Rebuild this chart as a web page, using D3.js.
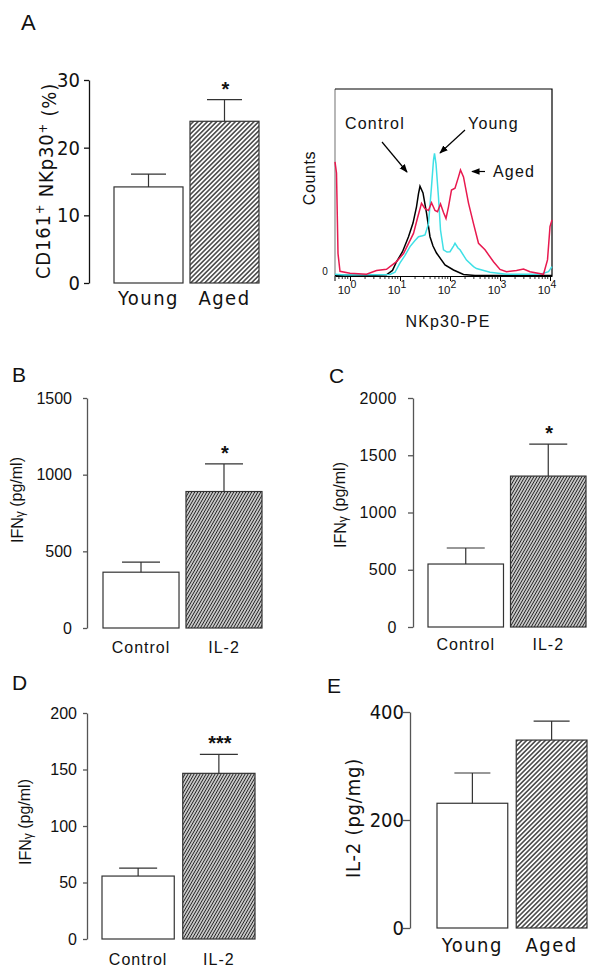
<!DOCTYPE html>
<html><head><meta charset="utf-8">
<script src="https://cdn.jsdelivr.net/npm/d3@7/dist/d3.min.js"></script>
<style>
body{margin:0;background:#fff;}
svg{display:block;}
</style></head>
<body>
<svg id="chart" width="600" height="979"></svg>
<script>
// ---------- DATA ----------
const panelACats = ["Young", "Aged"];
const panelAValues = [14.2, 23.9];
const panelAErrors = [1.9, 3.2];
const panelATicks = [0, 10, 20, 30];
const panelASig = ["", "*"];

const panelBCats = ["Control", "IL-2"];
const panelBValues = [364, 890];
const panelBErrors = [65, 181];
const panelBTicks = [0, 500, 1000, 1500];
const panelBSig = ["", "*"];

const panelCCats = ["Control", "IL-2"];
const panelCValues = [550, 1318];
const panelCErrors = [140, 280];
const panelCTicks = [0, 500, 1000, 1500, 2000];
const panelCSig = ["", "*"];

const panelDCats = ["Control", "IL-2"];
const panelDValues = [55.7, 146.6];
const panelDErrors = [7, 16.8];
const panelDTicks = [0, 50, 100, 150, 200];
const panelDSig = ["", "***"];

const panelECats = ["Young", "Aged"];
const panelEValues = [231, 348];
const panelEErrors = [56, 35];
const panelETicks = [0, 200, 400];
const panelESig = ["", ""];

// histogram curves: [log10(NKp30-PE), counts]
const histControl = [[-0.3,0.4],[0.5,0.4],[0.73,0.6],[0.85,3],[0.93,7.6],[1.05,13],[1.17,21],[1.26,28.3],[1.33,37],[1.37,44],[1.4,48],[1.46,44.4],[1.53,33.7],[1.6,21],[1.66,16],[1.73,12.3],[1.9,5.9],[2.07,3.2],[2.27,0.8],[2.5,0.3],[4.04,0.3]];
const histYoung = [[-0.3,1],[-0.1,0.6],[0.8,0.8],[0.9,2],[1.0,7],[1.1,11],[1.2,15.7],[1.3,19],[1.37,21],[1.45,21.5],[1.5,22],[1.57,28],[1.63,47.8],[1.67,62],[1.69,65.6],[1.72,60],[1.77,42],[1.81,24.6],[1.87,14],[1.94,12.8],[2.0,13],[2.07,16],[2.1,17.5],[2.16,15],[2.2,14],[2.33,8.5],[2.47,5],[2.53,4],[2.8,2],[3.13,1],[3.8,1],[3.97,2.3],[4.04,5]];
const histAged = [[-0.3,61],[-0.27,55],[-0.24,12],[-0.2,2.5],[0.0,1.5],[0.33,1],[0.53,2.9],[0.73,3.6],[0.93,7.7],[1.07,12],[1.27,22.8],[1.35,31],[1.43,38.9],[1.5,36],[1.57,35],[1.63,39.2],[1.7,35],[1.75,34.4],[1.81,38.5],[1.87,34],[1.92,30.8],[1.97,37],[2.03,46],[2.1,47],[2.17,53],[2.21,56.7],[2.27,53],[2.37,39],[2.47,28],[2.57,17.5],[2.7,14],[2.87,7.6],[3.0,3.5],[3.13,2.3],[3.33,2.9],[3.47,3.7],[3.6,2.3],[3.87,0.9],[3.95,8.6],[4.0,26.4],[4.04,30]];
const histDecades = [0, 1, 2, 3, 4];
const histCurveLabels = ["Control", "Young", "Aged"];

// ---------- DRAW ----------
const svg = d3.select("#chart");
const narrow = "'DejaVu Sans Condensed','Liberation Sans Narrow','Arial Narrow',sans-serif";
const regular = "'Liberation Sans',Arial,sans-serif";

const defs = svg.append("defs");
function hatch(id, w, angle, sw, color) {
  const p = defs.append("pattern").attr("id", id).attr("patternUnits", "userSpaceOnUse")
    .attr("width", w).attr("height", w).attr("patternTransform", `rotate(${angle})`);
  p.append("rect").attr("width", w).attr("height", w).attr("fill", "#fff");
  p.append("line").attr("x1", w/2).attr("x2", w/2).attr("y1", 0).attr("y2", w)
    .attr("stroke", color).attr("stroke-width", sw);
}
hatch("hatchA", 3.3, 45, 1.3, "#222");
hatch("hatchB", 2.6, 30, 1.3, "#222");
defs.append("marker").attr("id", "arrow").attr("viewBox", "0 0 10 10").attr("refX", 9).attr("refY", 5)
  .attr("markerWidth", 7).attr("markerHeight", 7).attr("orient", "auto-start-reverse")
  .append("path").attr("d", "M0,1 L10,5 L0,9 z").attr("fill", "#000");

function barPanel(o) {
  const g = svg.append("g");
  const x = d3.scaleBand().domain(o.cats).range(o.xr).paddingInner(o.pad).paddingOuter(0);
  const y = d3.scaleLinear().domain([0, o.ticks[o.ticks.length-1]]).range(o.yr);
  const ax = g.append("g").attr("transform", `translate(${o.axisX},0)`)
    .call(d3.axisLeft(y).tickValues(o.ticks).tickFormat(d3.format("d"))
      .tickSize(o.tickSize).tickPadding(o.tickPad).tickSizeOuter(0));
  ax.select(".domain").attr("stroke", o.axisColor).attr("stroke-width", 1.3);
  ax.selectAll(".tick line").attr("stroke", o.axisColor).attr("stroke-width", 1.3);
  ax.selectAll(".tick text").attr("font-family", o.font).attr("font-size", o.tickFs)
    .attr("fill", "#111").attr("letter-spacing", o.tickLs || 0);
  const bw = x.bandwidth();
  g.selectAll("rect.bar").data(o.cats).join("rect").attr("class", "bar")
    .attr("x", d => x(d)).attr("width", bw)
    .attr("y", (d, i) => y(o.values[i])).attr("height", (d, i) => y(0) - y(o.values[i]))
    .attr("fill", (d, i) => i === 0 ? "#fff" : `url(#${o.hatch})`)
    .attr("stroke", "#333").attr("stroke-width", 1.2);
  g.selectAll("path.err").data(o.cats).join("path").attr("class", "err")
    .attr("d", (d, i) => {
      const cx = x(d) + bw/2, yt = y(o.values[i] + o.errors[i]), yb = y(o.values[i]);
      return `M${cx},${yb}V${yt}M${cx - o.cap/2},${yt}H${cx + o.cap/2}`;
    }).attr("fill", "none").attr("stroke", "#333").attr("stroke-width", 1.2);
  g.selectAll("text.sig").data(o.cats).join("text").attr("class", "sig")
    .attr("x", d => x(d) + bw/2 + 1).attr("y", (d, i) => y(o.values[i] + o.errors[i]) - 4)
    .attr("text-anchor", "middle").attr("font-family", regular).attr("font-size", 20)
    .attr("font-weight", "bold").attr("fill", "#111")
    .text((d, i) => o.sig[i]);
  g.selectAll("text.cat").data(o.cats).join("text").attr("class", "cat")
    .attr("x", d => x(d) + bw/2).attr("y", o.catY)
    .attr("text-anchor", "middle").attr("font-family", o.font).attr("font-size", o.catFs)
    .attr("letter-spacing", o.catLs).attr("fill", "#111").text(d => d);
  const t = g.append("text").attr("transform", `translate(${o.titleX},${o.titleY}) rotate(-90)`)
    .attr("text-anchor", "middle").attr("dy", "0.35em").attr("font-family", o.font)
    .attr("font-size", o.titleFs).attr("letter-spacing", o.titleLs || 0).attr("fill", "#111");
  o.title(t);
  svg.append("text").attr("x", o.letter[0]).attr("y", o.letter[1]).attr("font-family", regular)
    .attr("font-size", o.letterFs).attr("fill", "#111").text(o.letterText);
}

// Panel A bars
barPanel({cats: panelACats, values: panelAValues, errors: panelAErrors, ticks: panelATicks, sig: panelASig,
  xr: [114, 259], pad: 0.092, yr: [283, 80], axisX: 89, tickSize: 5, tickPad: 4, axisColor: "#111",
  font: narrow, tickFs: 20, catY: 305, catFs: 20, catLs: 1.5, hatch: "hatchA", cap: 35,
  titleX: 43, titleY: 181, titleFs: 20, titleLs: 0.8,
  title: t => { t.append("tspan").text("CD161");
    t.append("tspan").attr("dy", "-0.45em").attr("font-size", 13).text("+");
    t.append("tspan").attr("dy", "0.45em").text(" NKp30");
    t.append("tspan").attr("dy", "-0.45em").attr("font-size", 13).text("+");
    t.append("tspan").attr("dy", "0.45em").text(" (%)"); },
  letter: [21, 30], letterFs: 22, letterText: "A"});

const gammaTitle = t => { t.append("tspan").text("IFN");
  t.append("tspan").attr("font-size", 12).attr("dy", "0.15em").text("γ");
  t.append("tspan").attr("dy", "-0.15em").text(" (pg/ml)"); };
// Panel B
barPanel({cats: panelBCats, values: panelBValues, errors: panelBErrors, ticks: panelBTicks, sig: panelBSig,
  xr: [103, 262], pad: 0.084, yr: [628, 398], axisX: 87, tickSize: 4, tickPad: 11, axisColor: "#555",
  font: regular, tickFs: 16, tickLs: 0, catY: 653, catFs: 16, catLs: 1, hatch: "hatchB", cap: 38,
  titleX: 17, titleY: 500, titleFs: 16, title: gammaTitle,
  letter: [12, 382], letterFs: 21, letterText: "B"});

// Panel C
barPanel({cats: panelCCats, values: panelCValues, errors: panelCErrors, ticks: panelCTicks, sig: panelCSig,
  xr: [428, 586], pad: 0.085, yr: [627, 398], axisX: 413, tickSize: 5, tickPad: 11, axisColor: "#555",
  font: regular, tickFs: 16, tickLs: 0.5, catY: 650, catFs: 16, catLs: 1, hatch: "hatchB", cap: 38,
  titleX: 340, titleY: 505, titleFs: 16, title: gammaTitle,
  letter: [329, 383], letterFs: 21, letterText: "C"});

// Panel D
barPanel({cats: panelDCats, values: panelDValues, errors: panelDErrors, ticks: panelDTicks, sig: panelDSig,
  xr: [102, 255], pad: 0.105, yr: [939, 713], axisX: 87, tickSize: 4, tickPad: 6, axisColor: "#555",
  font: regular, tickFs: 16, tickLs: 0, catY: 965, catFs: 16, catLs: 1, hatch: "hatchB", cap: 38,
  titleX: 25, titleY: 822, titleFs: 16, title: gammaTitle,
  letter: [12, 690], letterFs: 21, letterText: "D"});

// Panel E
barPanel({cats: panelECats, values: panelEValues, errors: panelEErrors, ticks: panelETicks, sig: panelESig,
  xr: [437, 587], pad: 0.107, yr: [928, 712], axisX: 410, tickSize: 7, tickPad: -1, axisColor: "#555",
  font: narrow, tickFs: 20, catY: 952, catFs: 20, catLs: 1.5, hatch: "hatchA", cap: 36,
  titleX: 353, titleY: 818, titleFs: 20, titleLs: 0.8,
  title: t => t.text("IL-2 (pg/mg)"),
  letter: [327, 693], letterFs: 21, letterText: "E"});

// ---------- Histogram (panel A right) ----------
const hx = d3.scaleLinear().domain([-0.3, 4.04]).range([335, 552]);
const hy = d3.scaleLinear().domain([0, 100]).range([276, 89]);
const hg = svg.append("g");
hg.append("line").attr("x1", 335).attr("x2", 335).attr("y1", hy(100)).attr("y2", hy(0)).attr("stroke", "#888").attr("stroke-width", 1.2);
hg.append("path").attr("d", `M${hx(-0.3)},${hy(100)}H${hx(4.04)}V${hy(0)}`).attr("fill", "none").attr("stroke", "#000").attr("stroke-width", 1.2);
const minorTicks = [];
for (let dd = -1; dd < 4; dd++) for (let m = 2; m <= 9; m++) {
  const v = dd + Math.log10(m); if (v >= -0.3 && v <= 4.04) minorTicks.push(v);
}
const xa = hg.append("g").attr("transform", `translate(0,${hy(0)})`)
  .call(d3.axisBottom(hx).tickValues(histDecades).tickSize(5).tickFormat("").tickSizeOuter(0));
xa.select(".domain").attr("stroke", "#000").attr("stroke-width", 1.2);
xa.selectAll(".tick line").attr("stroke", "#000");
hg.append("g").attr("transform", `translate(0,${hy(0)})`).selectAll("line").data(minorTicks).join("line")
  .attr("x1", d => hx(d)).attr("x2", d => hx(d)).attr("y1", 0).attr("y2", 3).attr("stroke", "#000").attr("stroke-width", 0.8);
hg.append("line").attr("x1", 335).attr("x2", 335).attr("y1", hy(0)).attr("y2", hy(0) + 5).attr("stroke", "#000");
const dl = hg.selectAll("text.dec").data(histDecades).join("text").attr("class", "dec")
  .attr("x", d => hx(d) - 3).attr("y", 294).attr("text-anchor", "middle")
  .attr("font-family", regular).attr("font-size", 11.5).attr("fill", "#111");
dl.append("tspan").text("10");
dl.append("tspan").attr("dy", -6).attr("font-size", 10.5).text(d => d);
hg.append("text").attr("x", 325).attr("y", hy(0) - 1).attr("text-anchor", "middle")
  .attr("font-family", regular).attr("font-size", 10).attr("fill", "#111").text("0");
hg.append("text").attr("transform", `translate(309,178) rotate(-90)`).attr("text-anchor", "middle")
  .attr("dy", "0.35em").attr("font-family", regular).attr("font-size", 16).attr("letter-spacing", 0.6)
  .attr("fill", "#111").text("Counts");
hg.append("text").attr("x", 448).attr("y", 327).attr("text-anchor", "middle")
  .attr("font-family", regular).attr("font-size", 16).attr("letter-spacing", 1.2).attr("fill", "#111").text("NKp30-PE");
const line = d3.line().x(d => hx(d[0])).y(d => hy(d[1]));
[[histControl, "#000"], [histYoung, "#3fe0e6"], [histAged, "#e8194f"]].forEach(([data, col]) => {
  hg.append("path").attr("d", line(data)).attr("fill", "none").attr("stroke", col).attr("stroke-width", 1.5);
});
hg.append("text").attr("x", 345).attr("y", 129).attr("font-family", regular).attr("font-size", 16)
  .attr("letter-spacing", 1.2).attr("fill", "#111").text(histCurveLabels[0]);
hg.append("text").attr("x", 468).attr("y", 129).attr("font-family", regular).attr("font-size", 16)
  .attr("letter-spacing", 1.2).attr("fill", "#111").text(histCurveLabels[1]);
hg.append("text").attr("x", 493).attr("y", 177).attr("font-family", regular).attr("font-size", 16)
  .attr("letter-spacing", 1.2).attr("fill", "#111").text(histCurveLabels[2]);
[[382, 142, 407, 172], [465, 130, 440, 153], [485, 171.5, 472, 171.5]].forEach(a => {
  hg.append("line").attr("x1", a[0]).attr("y1", a[1]).attr("x2", a[2]).attr("y2", a[3])
    .attr("stroke", "#000").attr("stroke-width", 1.2).attr("marker-end", "url(#arrow)");
});
</script>
</body></html>
